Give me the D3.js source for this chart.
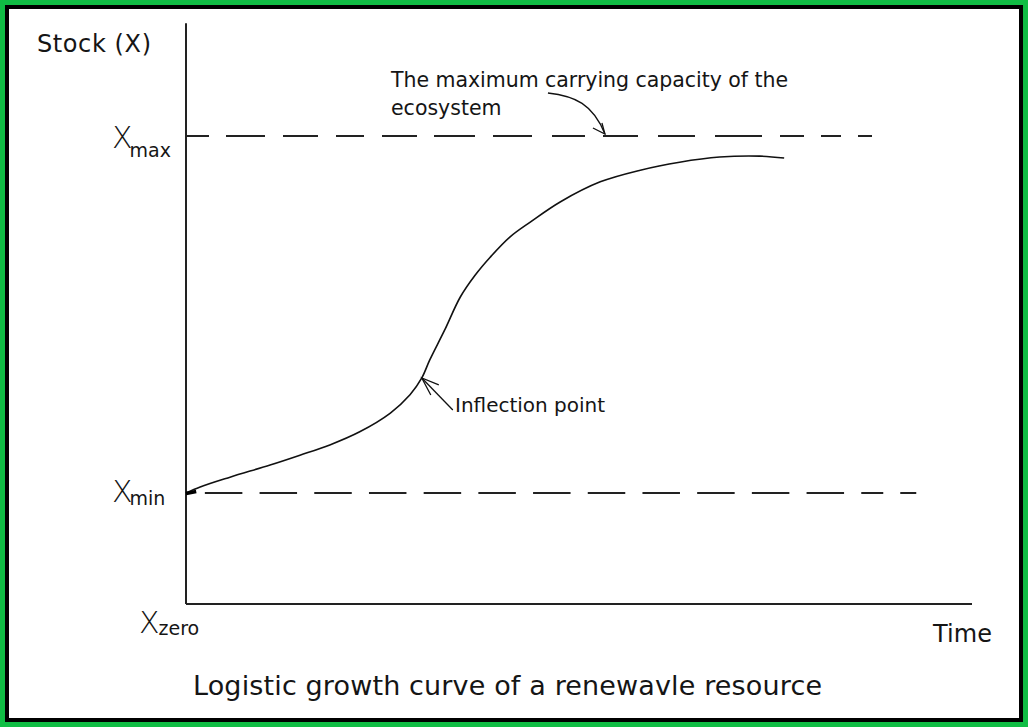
<!DOCTYPE html>
<html>
<head>
<meta charset="utf-8">
<script src="https://cdn.jsdelivr.net/npm/d3@7"></script>
<style>
  body { margin: 0; background: #fff; }
  svg text { font-family: "DejaVu Sans", sans-serif; fill: #151515; }
</style>
</head>
<body>
<div id="chart"></div>
<script>
// logistic growth curve (time 0..100, stock 0..100 where 100 = Xmax)
const curveTime  = [0, 1.8, 5.6, 10.7, 14.5, 18.3, 22.1, 26.0, 28.5, 30.0, 31.0, 32.9, 34.9, 36.8, 38.7, 41.2, 43.8, 47.6, 52.7, 57.8, 62.8, 67.9, 73.0, 76.1];
const curveStock = [23.7, 25.0, 27.1, 29.7, 31.8, 34.0, 36.8, 40.8, 44.7, 48.3, 52.1, 58.5, 65.6, 70.3, 74.1, 78.4, 81.6, 85.9, 90.2, 92.7, 94.4, 95.5, 95.7, 95.3];

const levelNames  = ["max", "min", "zero"];
const levelValues = [100, 23.7, 0];
const dashSpan    = { max: [0, 87.4], min: [2.4, 93.0] };

const inflection = { time: 30.0, stock: 48.3 };
const capacityArrowTime = 53.3;

const axisLabels = { y: "Stock (X)", x: "Time" };
const title = "Logistic growth curve of a renewavle resource";
const capacityNote = ["The maximum carrying capacity of the", "ecosystem"];
const inflectionNote = "Inflection point";

// hand drawn dashes are uneven, so spell the pattern out
const maxDash = "23,17,39,18,35,18,28,18,35,17,41,18,39,20,33,18,35,20,37,20,47,18,24,17,20,17,14,200";
const minDash = d3.range(12).map(() => "37.5,17.2").join(",") + ",22,17,16,200";

let W = 1028, H = 727;

let svg = d3.select("#chart").append("svg")
	.attr("width", W)
	.attr("height", H);

// frame: green outside, black inside
svg.append("rect").attr("width", W).attr("height", H).attr("fill", "#10bd44");
svg.append("rect").attr("x", 5).attr("y", 5).attr("width", W-10).attr("height", H-10).attr("fill", "#000");
svg.append("rect").attr("x", 9).attr("y", 9).attr("width", W-18).attr("height", H-18).attr("fill", "#fff");

let x = d3.scaleLinear().domain([0, 100]).range([186, 972]);
let y = d3.scaleLinear().domain([0, 100]).range([604, 136]);

// axes (no ticks in the original)
svg.append("line")
	.attr("x1", x(0)).attr("x2", x(0))
	.attr("y1", y(0)).attr("y2", y(124.1))
	.attr("stroke", "#222").attr("stroke-width", 2);
svg.append("line")
	.attr("x1", x(0)).attr("x2", x(100))
	.attr("y1", y(0)).attr("y2", y(0))
	.attr("stroke", "#222").attr("stroke-width", 2);

// dashed Xmax / Xmin lines
levelNames.forEach(function(n, i) {
	if (!dashSpan[n]) return;
	svg.append("line")
		.attr("x1", x(dashSpan[n][0])).attr("x2", x(dashSpan[n][1]))
		.attr("y1", y(levelValues[i])).attr("y2", y(levelValues[i]))
		.attr("stroke", "#222").attr("stroke-width", 2)
		.attr("stroke-dasharray", n == "max" ? maxDash : minDash);
});

// the curve
let pts = curveTime.map((t, i) => [x(t), y(curveStock[i])]);
svg.append("path")
	.attr("d", d3.line().curve(d3.curveCatmullRom.alpha(0.5))(pts))
	.attr("fill", "none")
	.attr("stroke", "#111")
	.attr("stroke-width", 1.6);
// little blob where the curve meets the axis
svg.append("line")
	.attr("x1", x(0)).attr("x2", x(1.3))
	.attr("y1", y(curveStock[0]) + 0.5).attr("y2", y(curveStock[0]) - 1.5)
	.attr("stroke", "#000").attr("stroke-width", 3.5);

// level labels X_max, X_min, X_zero
let labelPos = { max: [112, 12, 9], min: [112, 9, 3], zero: [139, 29, 2] };
levelNames.forEach(function(n, i) {
	let p = labelPos[n];
	let t = svg.append("text")
		.attr("x", p[0])
		.attr("y", y(levelValues[i]) + p[1]);
	t.append("tspan").style("font-size", "30px").style("font-weight", 200).text("X");
	t.append("tspan").attr("dx", n == "zero" ? -1 : -3).attr("dy", p[2]).style("font-size", "19px").text(n);
});

// axis titles
svg.append("text").attr("x", 37).attr("y", 52)
	.style("font-size", "24px").attr("textLength", 114).text(axisLabels.y);
svg.append("text").attr("x", 933).attr("y", 642)
	.style("font-size", "24px").attr("textLength", 59).text(axisLabels.x);

// caption
svg.append("text").attr("x", 193).attr("y", 695)
	.style("font-size", "27px").attr("textLength", 629).text(title);

// carrying capacity note + curved arrow
let tipX = x(capacityArrowTime), tipY = y(100) - 2;
capacityNote.forEach(function(s, i) {
	let t = svg.append("text").attr("x", 391).attr("y", 87 + i*28)
		.style("font-size", "20.5px").text(s);
	if (i == 0) t.attr("textLength", 397);
});
svg.append("path")
	.attr("d", "M" + (tipX-57) + "," + (tipY-41) + " C" + (tipX-30) + "," + (tipY-38) + " " + (tipX-12) + "," + (tipY-30) + " " + tipX + "," + tipY)
	.attr("fill", "none").attr("stroke", "#111").attr("stroke-width", 1.3);
svg.append("path")
	.attr("d", "M" + (tipX-12) + "," + (tipY-6) + " L" + tipX + "," + tipY + " L" + (tipX-3) + "," + (tipY-11))
	.attr("fill", "none").attr("stroke", "#111").attr("stroke-width", 1.3);

// inflection note + arrow
let ix = x(inflection.time), iy = y(inflection.stock);
svg.append("path")
	.attr("d", "M" + (ix+31) + "," + (iy+32) + " L" + ix + "," + iy)
	.attr("fill", "none").attr("stroke", "#111").attr("stroke-width", 1.3);
svg.append("path")
	.attr("d", "M" + (ix+17) + "," + (iy+7) + " L" + ix + "," + iy + " L" + (ix+9) + "," + (iy+17))
	.attr("fill", "none").attr("stroke", "#111").attr("stroke-width", 1.3);
svg.append("text").attr("x", 455).attr("y", 412)
	.style("font-size", "20px").attr("textLength", 150).text(inflectionNote);
</script>
</body>
</html>
